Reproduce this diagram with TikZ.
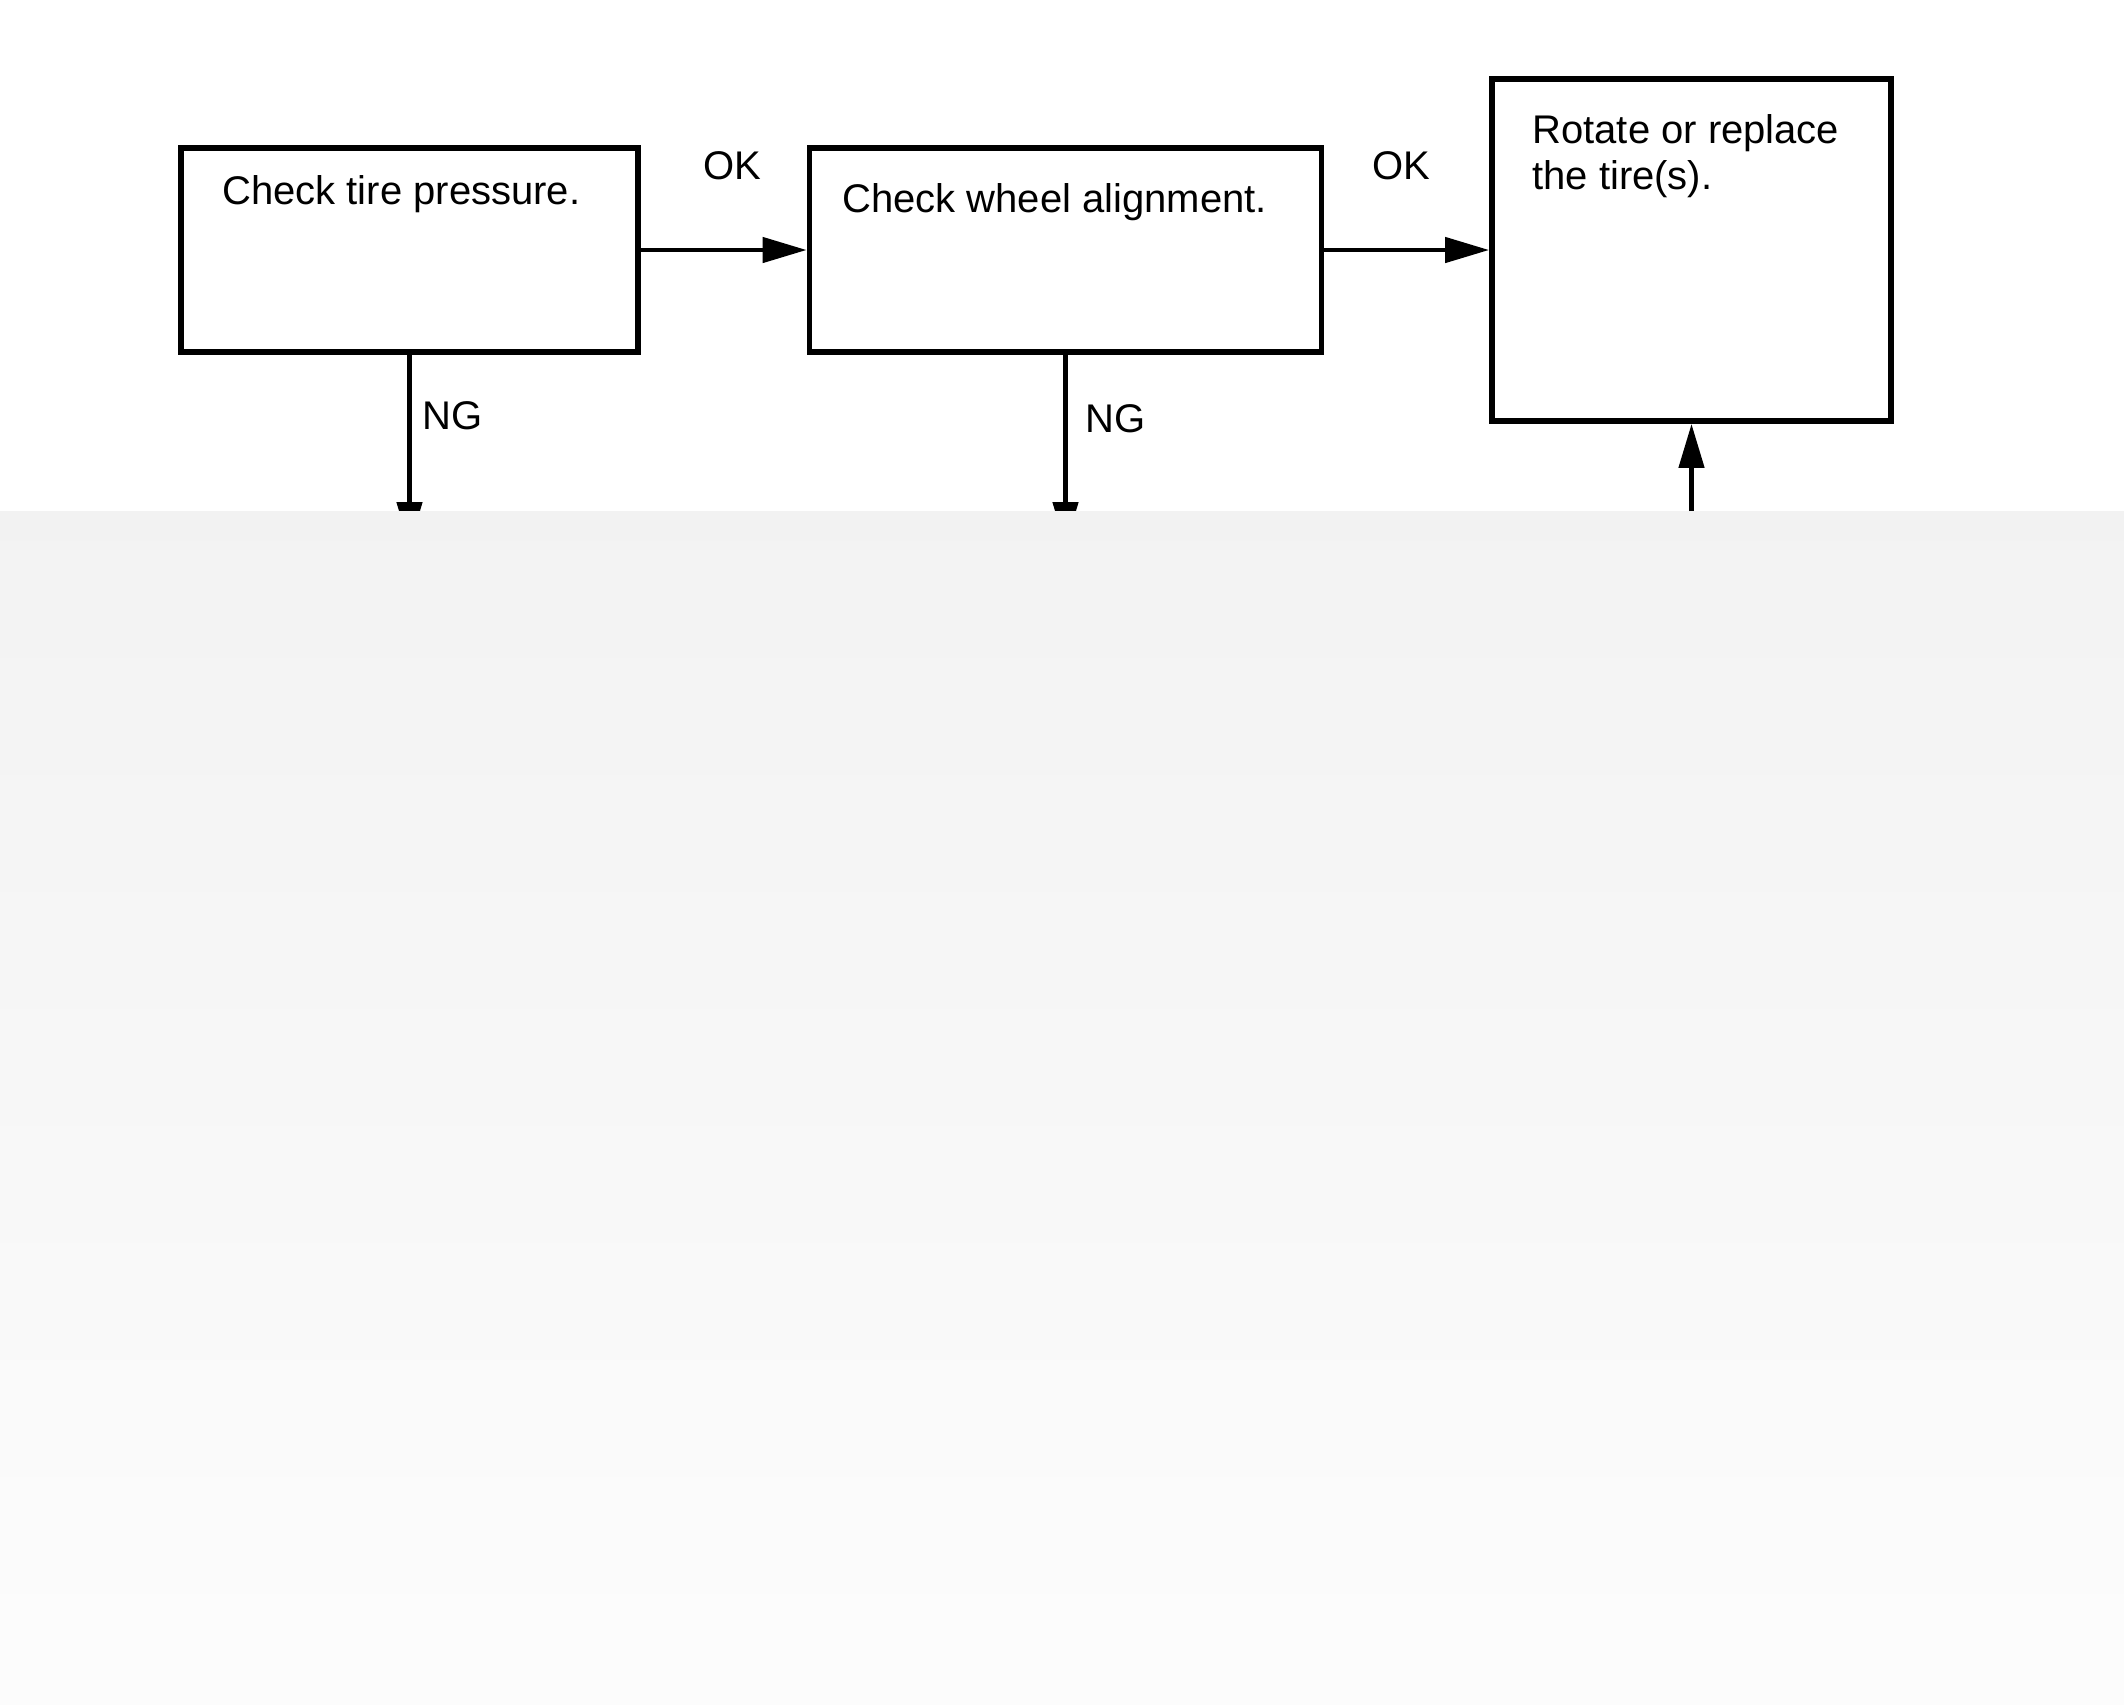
\documentclass[tikz,border=0pt]{standalone}
\usepackage{fontspec}
\setmainfont{Liberation Sans}
\usetikzlibrary{arrows.meta}
\begin{document}
\begin{tikzpicture}[x=0.5pt,y=-0.5pt,
  box/.style={draw=black,line width=2.9pt,rectangle,inner sep=0pt,fill=white},
  txt/.style={inner sep=0pt,anchor=base west,font=\fontsize{20pt}{23pt}\selectfont},
  conn/.style={line width=2.3pt,-{Triangle[length=22pt,width=12.5pt]}}]
\useasboundingbox (0,0) rectangle (2124,1704);
\fill[white] (0,0) rectangle (2124,1704);
% boxes
\node[box,minimum width=228.5pt,minimum height=102pt] (b1) at (409.5,250) {};
\node[box,minimum width=256pt,minimum height=102pt] (b2) at (1065.5,250) {};
\node[box,minimum width=199.5pt,minimum height=171pt] (b3) at (1691.5,250) {};
% box texts
\node[txt] (t1) at (222,204) {Check tire pressure.};
\node[txt] (t2) at (842,212) {Check wheel alignment.};
\node[txt] (t3a) at (1532,143) {Rotate or replace};
\node[txt] (t3b) at (1532,189) {the tire(s).};
% connectors
\draw[conn] (b1.east) -- (b2.west);
\draw[conn] (b2.east) -- (b3.west);
\coordinate (n1) at (409.5,546);
\coordinate (n2) at (1065.5,546);
\coordinate (u3) at (1691.5,511);
\draw[conn] (b1.south) -- (n1);
\draw[conn] (b2.south) -- (n2);
% labels
\node[txt] (ok1) at (703,179) {OK};
\node[txt] (ok2) at (1372,179) {OK};
\node[txt] (ng1) at (422,429) {NG};
\node[txt] (ng2) at (1085,432) {NG};
% lower faded panel covering the rest of the chart
\shade[top color=black!5,bottom color=black!1] (0,511) rectangle (2124,1704);
\draw[conn] (u3) -- (b3.south);
\end{tikzpicture}
\end{document}
